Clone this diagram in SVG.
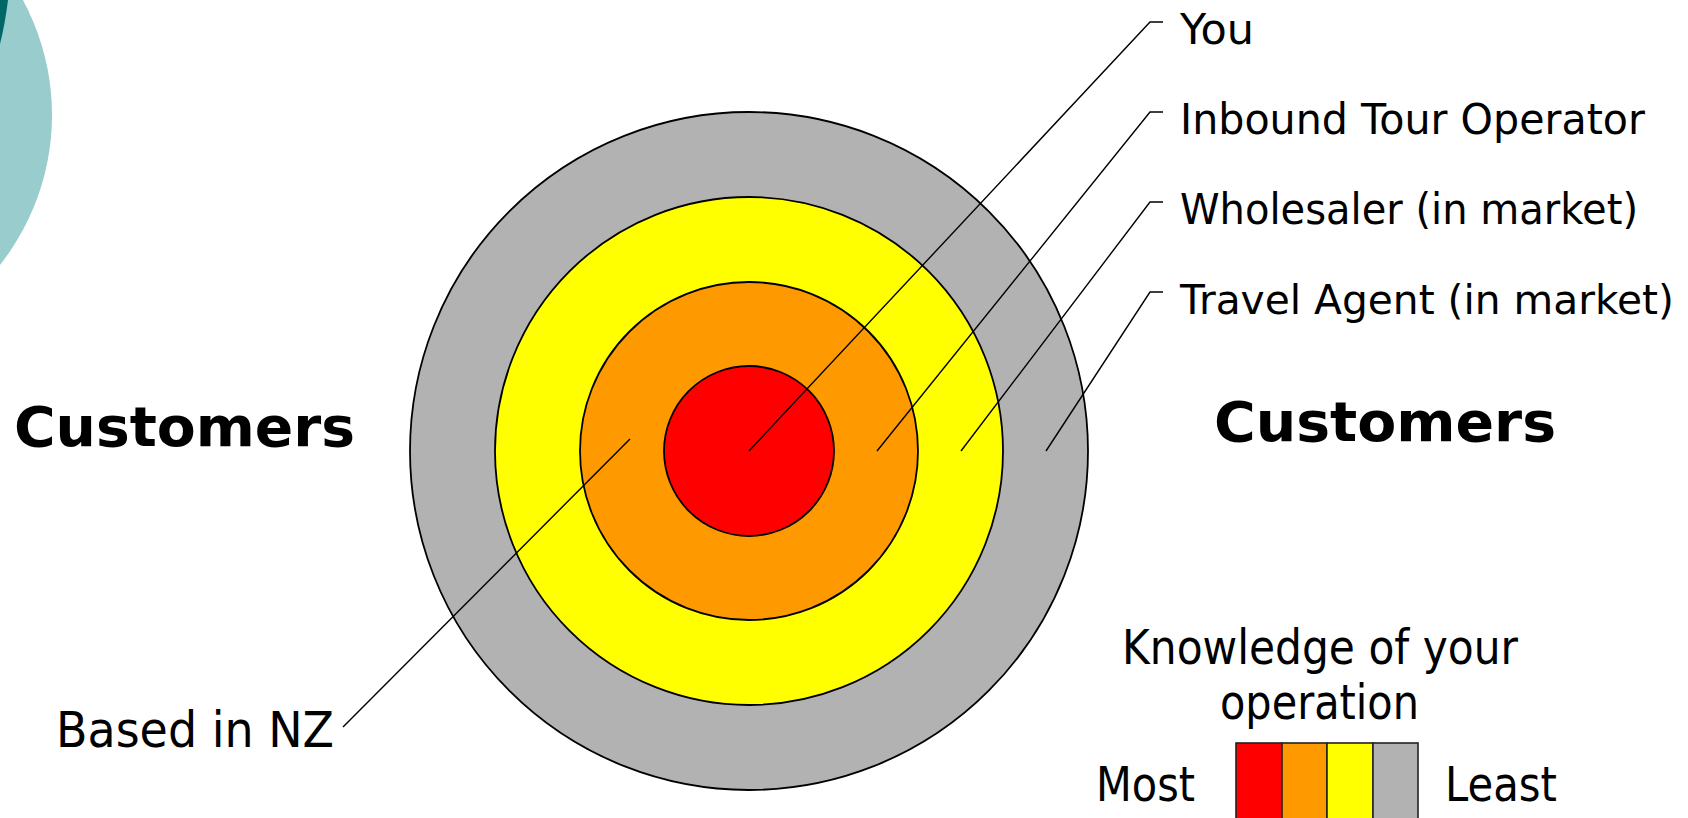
<svg xmlns="http://www.w3.org/2000/svg" width="1688" height="818" viewBox="0 0 1688 818">
<style>
.ring{stroke:#000;stroke-width:1.8}
.lead{fill:none;stroke:#000;stroke-width:1.4}
.lbl{font-family:"DejaVu Sans","Liberation Sans",sans-serif;fill:#000}
.big{font-family:"DejaVu Sans","Liberation Sans",sans-serif;font-weight:bold;fill:#000}
.cell{stroke:#222;stroke-width:1.6}
</style>
<rect width="1688" height="818" fill="#fff"/>
<g id="deco">
<circle cx="-190" cy="115" r="242" fill="#99CCCC"/>
<path d="M0,0 L8,0 Q5,24 0,44 Z" fill="#006666"/>
</g>
<g id="target">
<circle id="ring-least" class="ring" cx="749" cy="451" r="339" fill="#B2B2B2"/>
<circle id="ring-wholesaler" class="ring" cx="749" cy="451" r="254" fill="#FFFF00"/>
<circle id="ring-inbound" class="ring" cx="749" cy="451" r="169" fill="#FF9900"/>
<circle id="ring-you" class="ring" cx="749" cy="451" r="85" fill="#FF0000"/>
</g>
<g id="connectors">
<polyline class="lead" points="749,451 1150,22 1163,22"/>
<polyline class="lead" points="877,451 1150,112 1163,112"/>
<polyline class="lead" points="961,451 1150,202 1163,202"/>
<polyline class="lead" points="1046,451 1150,292 1163,292"/>
<polyline class="lead" points="630,439 343,727"/>
</g>
<g id="label-you"><text class="lbl" x="1180" y="44" font-size="42" textLength="74" lengthAdjust="spacingAndGlyphs">You</text></g>
<g id="label-inbound"><text class="lbl" x="1180" y="134" font-size="42" textLength="465" lengthAdjust="spacingAndGlyphs">Inbound Tour Operator</text></g>
<g id="label-wholesaler"><text class="lbl" x="1180" y="224" font-size="42" textLength="458" lengthAdjust="spacingAndGlyphs">Wholesaler (in market)</text></g>
<g id="label-travel"><text class="lbl" x="1180" y="314" font-size="41" textLength="494" lengthAdjust="spacingAndGlyphs">Travel Agent (in market)</text></g>
<g id="label-nz"><text class="lbl" x="56" y="747" font-size="50" textLength="278" lengthAdjust="spacingAndGlyphs">Based in NZ</text></g>
<g id="customers-left"><text class="big" x="14" y="446" font-size="55" textLength="341" lengthAdjust="spacingAndGlyphs">Customers</text></g>
<g id="customers-right"><text class="big" x="1214" y="441" font-size="55" textLength="342" lengthAdjust="spacingAndGlyphs">Customers</text></g>
<g id="legend">
<text class="lbl" x="1122" y="664" font-size="48" textLength="396" lengthAdjust="spacingAndGlyphs">Knowledge of your</text>
<text class="lbl" x="1220" y="719" font-size="48" textLength="199" lengthAdjust="spacingAndGlyphs">operation</text>
<text class="lbl" x="1096" y="801" font-size="48" textLength="99" lengthAdjust="spacingAndGlyphs">Most</text>
<text class="lbl" x="1445" y="801" font-size="48" textLength="112" lengthAdjust="spacingAndGlyphs">Least</text>
<rect class="cell" x="1236" y="743" width="46" height="76" fill="#FF0000"/>
<rect class="cell" x="1282" y="743" width="45" height="76" fill="#FF9900"/>
<rect class="cell" x="1327" y="743" width="46" height="76" fill="#FFFF00"/>
<rect class="cell" x="1373" y="743" width="45" height="76" fill="#B2B2B2"/>
</g>
</svg>
